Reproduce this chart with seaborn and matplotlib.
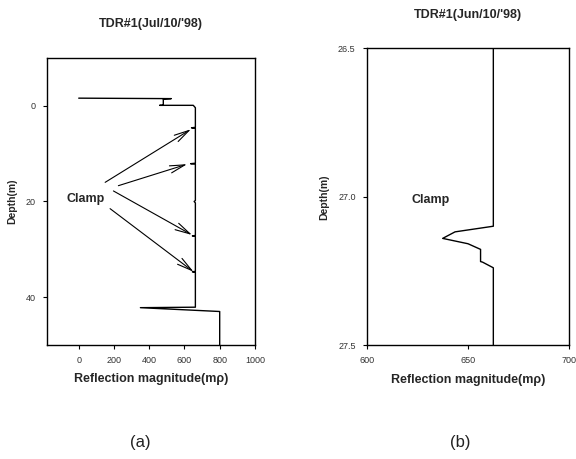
import numpy as np
import pandas as pd
import matplotlib
matplotlib.use("Agg")
import matplotlib.pyplot as plt
import seaborn as sns

sns.set_theme(style="ticks")
plt.rcParams['font.family'] = ['Liberation Sans', 'DejaVu Sans']

# Panel (a): TDR#1 (Jul/10/'98)
a_title = "TDR#1(Jul/10/'98)"
a_magnitude = [0, 525, 480, 480, 460, 500, 650, 662, 662, 640, 662, 662, 635, 662, 662, 655, 662,
               662, 645, 662, 662, 645, 662, 662, 350, 800, 800]
a_depth = [-1.6, -1.5, -1.4, -0.1, -0.1, -0.1, -0.1, 0.4, 4.5, 4.6, 4.7, 12.0, 12.1, 12.2, 19.8,
           20.0, 20.3, 27.1, 27.2, 27.3, 34.6, 34.7, 34.8, 42.1, 42.2, 43.0, 50.0]
a_xticks = [0, 200, 400, 600, 800, 1000]
a_yticks = [0, 20, 40]
a_arrow_tail = [(150, 16.0), (225, 16.7), (197, 17.8), (178, 21.5)]
a_arrow_head = [(637, 4.9), (615, 12.2), (643, 27.0), (652, 34.7)]

# Panel (b): TDR#1 (Jun/10/'98)
b_title = "TDR#1(Jun/10/'98)"
b_magnitude = [662.5, 662.5, 643.6, 637.5, 650.0, 656.2, 656.2, 657.2, 662.5, 662.5]
b_depth = [26.5, 27.099, 27.118, 27.14, 27.158, 27.177, 27.218, 27.22, 27.239, 27.5]
b_xticks = [600, 650, 700]
b_yticks = [26.5, 27.0, 27.5]

fig = plt.figure(figsize=(5.76, 4.59), dpi=100)
ax1 = fig.add_axes([0.0816, 0.2484, 0.361, 0.6253])
ax2 = fig.add_axes([0.6366, 0.2477, 0.3518, 0.6470])

dfa = pd.DataFrame({"mag": a_magnitude, "depth": a_depth})
sns.lineplot(data=dfa, x="mag", y="depth", sort=False, estimator=None, orient="y",
             color="black", lw=1.0, ax=ax1)
dfb = pd.DataFrame({"mag": b_magnitude, "depth": b_depth})
sns.lineplot(data=dfb, x="mag", y="depth", sort=False, estimator=None, orient="y",
             color="black", lw=1.0, ax=ax2)

ax1.set_xlim(-180, 1000)
ax1.set_ylim(50, -10)
ax1.set_xticks(a_xticks)
ax1.set_yticks(a_yticks)
ax2.set_xlim(600, 700)
ax2.set_ylim(27.5, 26.5)
ax2.set_xticks(b_xticks)
ax2.set_yticks(b_yticks)
ax2.set_yticklabels([f"{v:.1f}" for v in b_yticks])

for ax in (ax1, ax2):
    for s in ax.spines.values():
        s.set_linewidth(1.0)
        s.set_color("black")
    ax.tick_params(direction="out", length=3, width=0.8, labelsize=6.5,
                   labelcolor="#333333", color="black", pad=5)
    ax.set_xlabel("Reflection magnitude(m\u03c1)", fontsize=9, fontweight="bold", labelpad=6)
    ax.set_ylabel("Depth(m)", fontsize=7.5, fontweight="bold", labelpad=6)

ax1.set_title(a_title, fontsize=9, fontweight="bold", pad=22)
ax2.set_title(b_title, fontsize=9, fontweight="bold", pad=22)

ax1.text(40, 19.5, "Clamp", fontsize=9, fontweight="bold", ha="center", va="center")
for tail, head in zip(a_arrow_tail, a_arrow_head):
    ax1.annotate("", xy=head, xytext=tail,
                 arrowprops=dict(arrowstyle="->,head_length=0.9,head_width=0.22",
                                 lw=0.8, color="black", shrinkA=0, shrinkB=0))

ax2.text(631.5, 27.01, "Clamp", fontsize=9, fontweight="bold", ha="center", va="center")

fig.text(140 / 576, 1 - 443 / 459, "(a)", fontsize=12, ha="center", va="center", color="#222222")
fig.text(460 / 576, 1 - 443 / 459, "(b)", fontsize=12, ha="center", va="center", color="#222222")

fig.savefig("out.png", dpi=100)
